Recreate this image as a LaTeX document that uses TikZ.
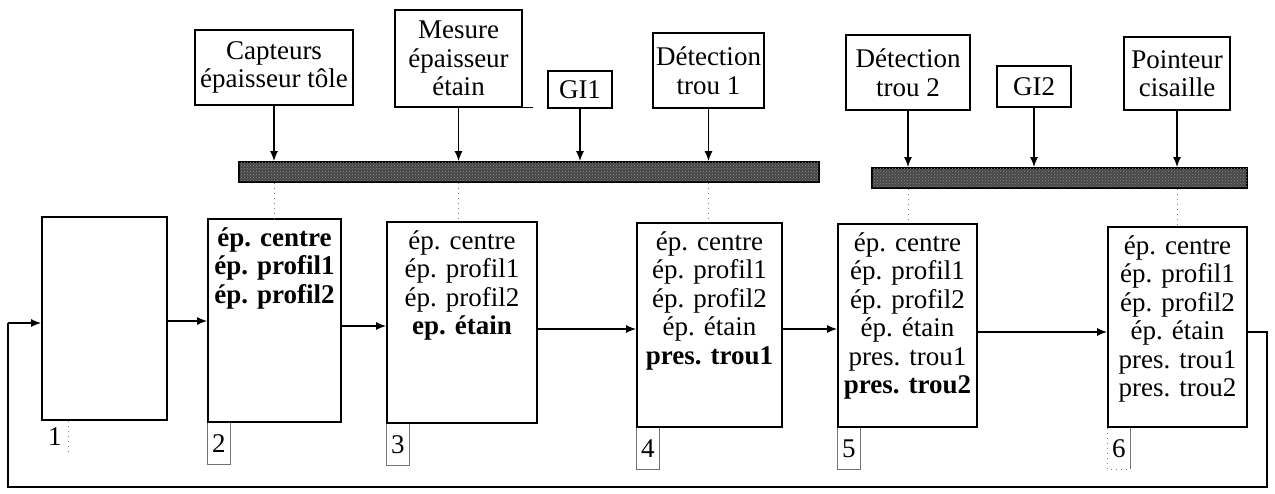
\documentclass[tikz,border=0pt]{standalone}
\usepackage{fontspec}
\setmainfont{Liberation Serif}
\usetikzlibrary{arrows.meta,patterns}
\begin{document}
\begin{tikzpicture}[x=1pt,y=-1pt,
  every node/.style={font=\fontsize{27}{28.5}\selectfont},
  sensor/.style={draw, line width=1.5pt, align=center, inner sep=0pt},
  stage/.style={draw, line width=1.8pt, inner sep=0pt},
  bus/.style={draw, line width=1.8pt, fill=black!72, inner sep=0pt,
    postaction={pattern=crosshatch dots, pattern color=white!55!black}},
  content/.style={anchor=north, yshift=-9pt, align=center, inner sep=0pt},
  tagbox/.style={anchor=north west, minimum width=23, minimum height=41, inner sep=0pt},
  tagline/.style={draw=black!55, line width=0.7pt},
  conn/.style={line width=1.5pt, -{Latex[length=10pt,width=8pt]}},
  wire/.style={line width=1.5pt},
  probe/.style={draw=black!50, line width=0.8pt, dash pattern=on 1pt off 4pt}]
\useasboundingbox (0,0) rectangle (1275,494);

% measuring devices
\node[sensor, minimum width=158, minimum height=75] (cap) at (274,67.5) {Capteurs\\épaisseur tôle};
\node[sensor, minimum width=127, minimum height=97] (mes) at (458.5,58.5) {Mesure\\épaisseur\\étain};
\node[sensor, minimum width=64, minimum height=37] (gi1) at (580,89.5) {GI1};
\node[sensor, minimum width=111, minimum height=75] (det1) at (708.5,70.5) {Détection\\trou 1};
\node[sensor, minimum width=124, minimum height=75] (det2) at (908,72.5) {Détection\\trou 2};
\node[sensor, minimum width=74, minimum height=41] (gi2) at (1034,86.5) {GI2};
\node[sensor, minimum width=106, minimum height=73] (poi) at (1177,73.5) {Pointeur\\cisaille};
\draw[line width=1.5pt] (mes.south east) -- ++(10,0);

% field buses
\node[bus, minimum width=580, minimum height=20] (bus1) at (529,172) {};
\node[bus, minimum width=375, minimum height=20] (bus2) at (1059.5,178) {};

% sensor links to the buses
\foreach \s/\b in {cap/bus1, mes/bus1, gi1/bus1, det1/bus1, det2/bus2, gi2/bus2, poi/bus2}
  \draw[conn] (\s.south) -- (\s.south |- \b.north);

% tracking stages
\node[stage, minimum width=125, minimum height=203] (b1) at (104.5,318.5) {};
\node[stage, minimum width=133, minimum height=203] (b2) at (274.5,320.5) {};
\node[stage, minimum width=150, minimum height=201] (b3) at (462,322.5) {};
\node[stage, minimum width=145, minimum height=204] (b4) at (709.5,325) {};
\node[stage, minimum width=139, minimum height=203] (b5) at (907.5,325.5) {};
\node[stage, minimum width=139, minimum height=200] (b6) at (1177.5,327) {};

\node[content] (t2) at (b2.north) {\textbf{ép. centre}\\\textbf{ép. profil1}\\\textbf{ép. profil2}};
\node[content] (t3) at (b3.north) {ép. centre\\ép. profil1\\ép. profil2\\\textbf{ep. étain}};
\node[content] (t4) at (b4.north) {ép. centre\\ép. profil1\\ép. profil2\\ép. étain\\\textbf{pres. trou1}};
\node[content] (t5) at (b5.north) {ép. centre\\ép. profil1\\ép. profil2\\ép. étain\\pres. trou1\\\textbf{pres. trou2}};
\node[content] (t6) at (b6.north) {ép. centre\\ép. profil1\\ép. profil2\\ép. étain\\pres. trou1\\pres. trou2};

% dotted links from the buses to the stages
\draw[probe] (cap.south |- bus1.south) -- (cap.south |- b2.north);
\draw[probe] (mes.south |- bus1.south) -- (mes.south |- b3.north);
\draw[probe] (det1.south |- bus1.south) -- (det1.south |- b4.north);
\draw[probe] (det2.south |- bus2.south) -- (det2.south |- b5.north);
\draw[probe] (poi.south |- bus2.south) -- (poi.south |- b6.north);

% stage numbers
\node[tagbox, minimum width=27, minimum height=30] (n1) at (b1.south west) {1};
\draw[probe] (n1.north east) -- (n1.south east);
\foreach \i in {2,...,5}{
  \node[tagbox] (n\i) at (b\i.south west) {\i};
  \draw[tagline] (n\i.north west) -- (n\i.south west) -- (n\i.south east) -- (n\i.north east);
}
\node[tagbox] (n6) at (b6.south west) {6};
\draw[probe] (n6.north west) -- (n6.south west) -- (n6.south east);
\draw[tagline] (n6.north east) -- (n6.south east);

% flow between stages
\draw[conn] (b1.east |- 0,321) -- (b2.west |- 0,321);
\draw[conn] (b2.east |- 0,326) -- (b3.west |- 0,326);
\draw[conn] (b3.east |- 0,329) -- (b4.west |- 0,329);
\draw[conn] (b4.east |- 0,329) -- (b5.west |- 0,329);
\draw[conn] (b5.east |- 0,332) -- (b6.west |- 0,332);

% return loop
\coordinate (loopR) at (1267,487);
\coordinate (loopL) at (8,487);
\draw[wire] (b6.east |- 0,332) -| (loopR) -- (loopL) -- (loopL |- 0,323);
\draw[conn] (loopL |- 0,323) -- (b1.west |- 0,323);
\end{tikzpicture}
\end{document}
